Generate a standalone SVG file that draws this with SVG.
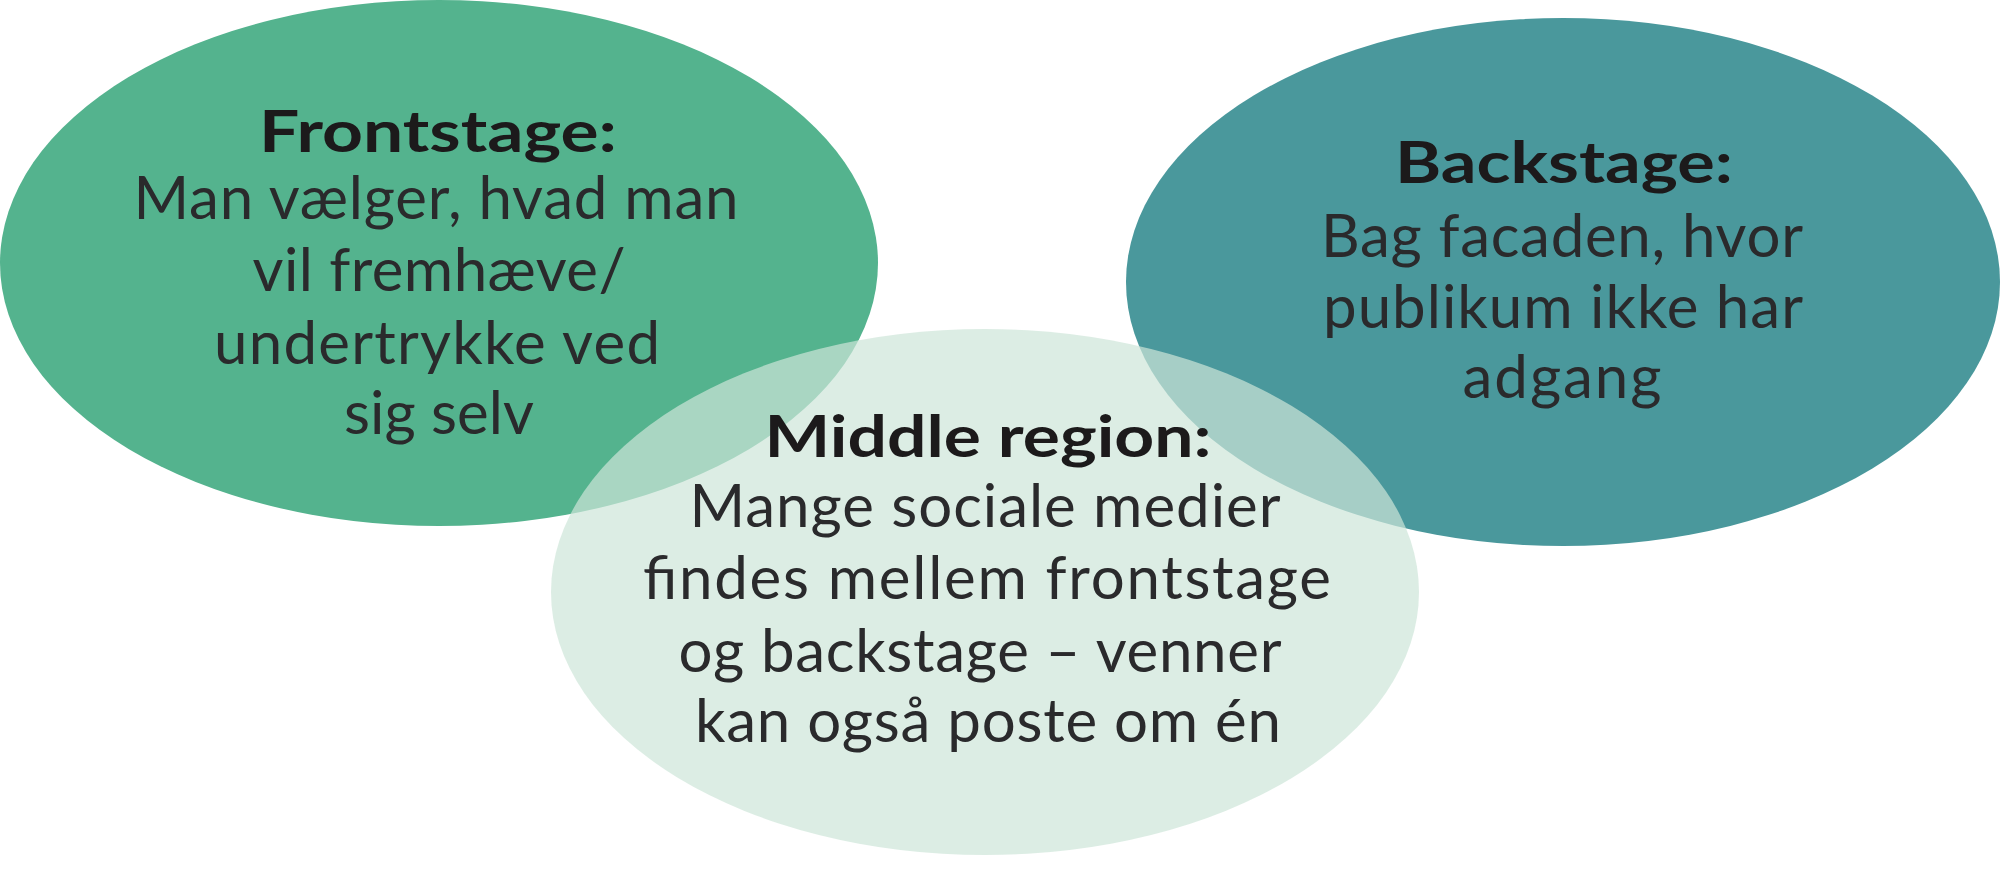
<svg xmlns="http://www.w3.org/2000/svg" width="2000" height="895" viewBox="0 0 2000 895">
  <style>
    .title { font-family: Lato, "Open Sans", "Liberation Sans", sans-serif; font-weight: 700; font-size: 58px; fill: #1c1a1b; text-anchor: middle; }
    .body { font-family: Lato, "Open Sans", "Liberation Sans", sans-serif; font-weight: 400; font-size: 60px; fill: #2a2a2c; text-anchor: middle; }
  </style>
  <rect x="0" y="0" width="2000" height="895" fill="#ffffff"/>
  <g id="frontstage">
    <ellipse cx="439" cy="263" rx="439" ry="263" fill="#54b38e"/>
  </g>
  <g id="backstage">
    <ellipse cx="1563" cy="282" rx="437" ry="264" fill="#4a989c"/>
  </g>
  <g id="middle-region">
    <ellipse cx="985" cy="592" rx="434" ry="263" fill="#cde5d8" fill-opacity="0.7"/>
  </g>
  <g id="frontstage-text">
    <text class="title" x="438" y="152" textLength="358" lengthAdjust="spacingAndGlyphs">Frontstage:</text>
    <text class="body" x="436" y="219" textLength="605" lengthAdjust="spacing">Man vælger, hvad man</text>
    <text class="body" x="439" y="291" textLength="373" lengthAdjust="spacing">vil fremhæve/</text>
    <text class="body" x="437" y="364" textLength="446" lengthAdjust="spacing">undertrykke ved</text>
    <text class="body" x="439" y="434" textLength="190" lengthAdjust="spacing">sig selv</text>
  </g>
  <g id="backstage-text">
    <text class="title" x="1564" y="183" textLength="338" lengthAdjust="spacingAndGlyphs">Backstage:</text>
    <text class="body" x="1562" y="257" textLength="482" lengthAdjust="spacing">Bag facaden, hvor</text>
    <text class="body" x="1563" y="328" textLength="480" lengthAdjust="spacing">publikum ikke har</text>
    <text class="body" x="1562" y="398" textLength="199" lengthAdjust="spacing">adgang</text>
  </g>
  <g id="middle-region-text">
    <text class="title" x="988" y="457" textLength="447" lengthAdjust="spacingAndGlyphs">Middle region:</text>
    <text class="body" x="985" y="527" textLength="591" lengthAdjust="spacing">Mange sociale medier</text>
    <text class="body" x="987" y="599" textLength="688" lengthAdjust="spacing">findes mellem frontstage</text>
    <text class="body" x="980" y="672" textLength="603" lengthAdjust="spacing">og backstage – venner</text>
    <text class="body" x="988" y="742" textLength="586" lengthAdjust="spacing">kan også poste om én</text>
  </g>
</svg>
